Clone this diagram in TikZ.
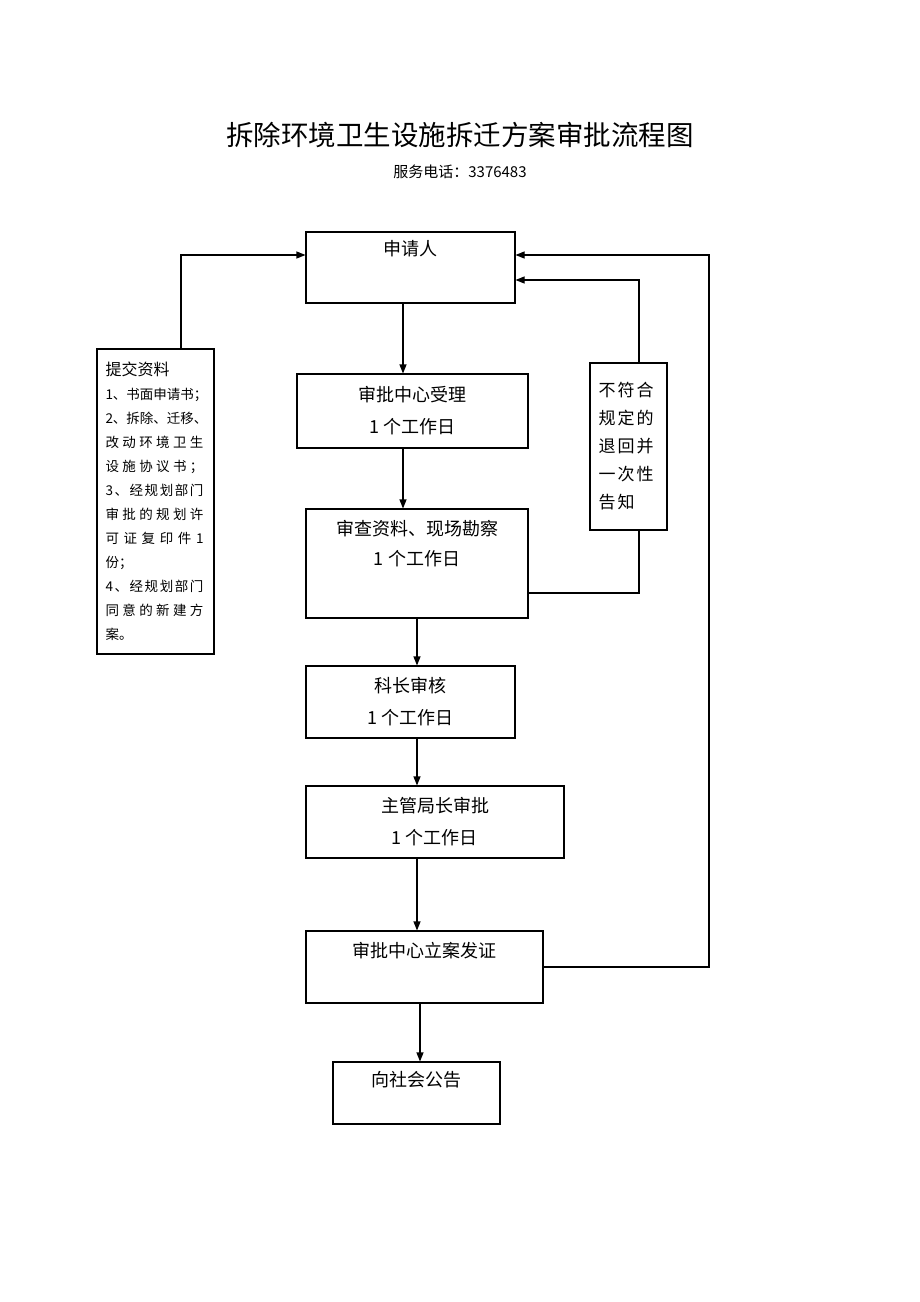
\documentclass[tikz,border=0pt]{standalone}
\usepackage{fontspec}
\setmainfont{Noto Sans CJK SC}
\usetikzlibrary{arrows.meta}

% justified line: glue between every character
\def\spreadloop#1{\ifx#1\relax\else#1\expandafter\spreadnext\fi}
\def\spreadnext#1{\ifx#1\relax\else\hfil#1\expandafter\spreadnext\fi}
\newcommand{\fullline}[1]{\makebox[98pt][s]{\spreadloop#1\relax}}

\tikzset{
	box/.style={draw, line width=1.1pt, inner sep=0pt, align=center,
		font=\fontsize{18}{32}\selectfont},
	toptext/.style={anchor=north, yshift=#1, inner sep=2pt, align=center,
		font=\fontsize{18}{30}\selectfont},
	toptext/.default=-10pt,
	arr/.style={-{Triangle[length=9pt,width=7pt]}, line width=1.1pt},
	link/.style={line width=1.1pt}
}

\begin{document}
\begin{tikzpicture}[x=1pt, y=-1pt]
\useasboundingbox (0,0) rectangle (920,1302);

% Title
\node [font=\fontsize{27.5}{30}\selectfont] (title) at (460,135) {拆除环境卫生设施拆迁方案审批流程图};
\node [font=\fontsize{15}{18}\selectfont] (phone) at (460,172) {服务电话：3376483};

% Applicant
\node [box,
	minimum width=209,
	minimum height=71,
	label={[toptext=-7pt]north:申请人}] (app) at (410.5,267.5){};

% Steps
\node [box, minimum width=231, minimum height=74] (accept) at (412.5,411) {审批中心受理\\1 个工作日};
\node [box,
	minimum width=222,
	minimum height=109,
	label={[toptext]north:审查资料、现场勘察\\1 个工作日}] (check) at (417,563.5){};
\node [box, minimum width=209, minimum height=72] (chief) at (410.5,702) {科长审核\\1 个工作日};
\node [box, minimum width=258, minimum height=72] (director) at (435,822) {主管局长审批\\1 个工作日};
\node [box,
	minimum width=237,
	minimum height=72,
	label={[toptext]north:审批中心立案发证}] (issue) at (424.5,967){};
\node [box,
	minimum width=167,
	minimum height=62,
	label={[toptext=-8pt]north:向社会公告}] (notice) at (416.5,1093){};

% Documents to hand in
\node [box,
	minimum width=117,
	minimum height=305,
	text width=100pt,
	inner xsep=8.5pt,
	align=left,
	font=\fontsize{13.5}{24}\selectfont] (docs) at (155.5,501.5)
	{{\fontsize{16}{24}\selectfont 提交资料}\\
	\fullline{1、书面申请书；}\\
	\fullline{2、拆除、迁移、}\\
	\fullline{改动环境卫生}\\
	\fullline{设施协议书；}\\
	\fullline{3、经规划部门}\\
	\fullline{审批的规划许}\\
	\fullline{可证复印件1}\\
	份；\\
	\fullline{4、经规划部门}\\
	\fullline{同意的新建方}\\
	案。};

% Rejected
\node [box,
	minimum width=77,
	minimum height=167,
	text width=60pt,
	inner xsep=8.5pt,
	align=left,
	font=\fontsize{17}{28}\selectfont\addfontfeature{LetterSpace=12}] (reject) at (628.5,446.5)
	{不符合\\规定的\\退回并\\一次性\\告知};

% Main flow
\coordinate (colA) at (403,0);
\coordinate (colB) at (417,0);
\coordinate (colC) at (420,0);
\draw [arr] (app.south -| colA) -- (accept.north -| colA);
\draw [arr] (accept.south -| colA) -- (check.north -| colA);
\draw [arr] (check.south -| colB) -- (chief.north -| colB);
\draw [arr] (chief.south -| colB) -- (director.north -| colB);
\draw [arr] (director.south -| colB) -- (issue.north -| colB);
\draw [arr] (issue.south -| colC) -- (notice.north -| colC);

% Documents to applicant
\coordinate (docsUp) at (181,255);
\draw [arr] (docs.north -| docsUp) |- (app.west |- docsUp);

% Return loop
\coordinate (backTop) at (639,280);
\coordinate (backLow) at (639,593);
\draw [link] (check.east |- backLow) -- (backLow) -- (reject.south -| backLow);
\draw [arr] (reject.north -| backTop) |- (app.east |- backTop);

% Outer loop
\coordinate (loopTop) at (709,255);
\draw [arr] (issue.east) -| (loopTop) -- (app.east |- loopTop);

\end{tikzpicture}
\end{document}
